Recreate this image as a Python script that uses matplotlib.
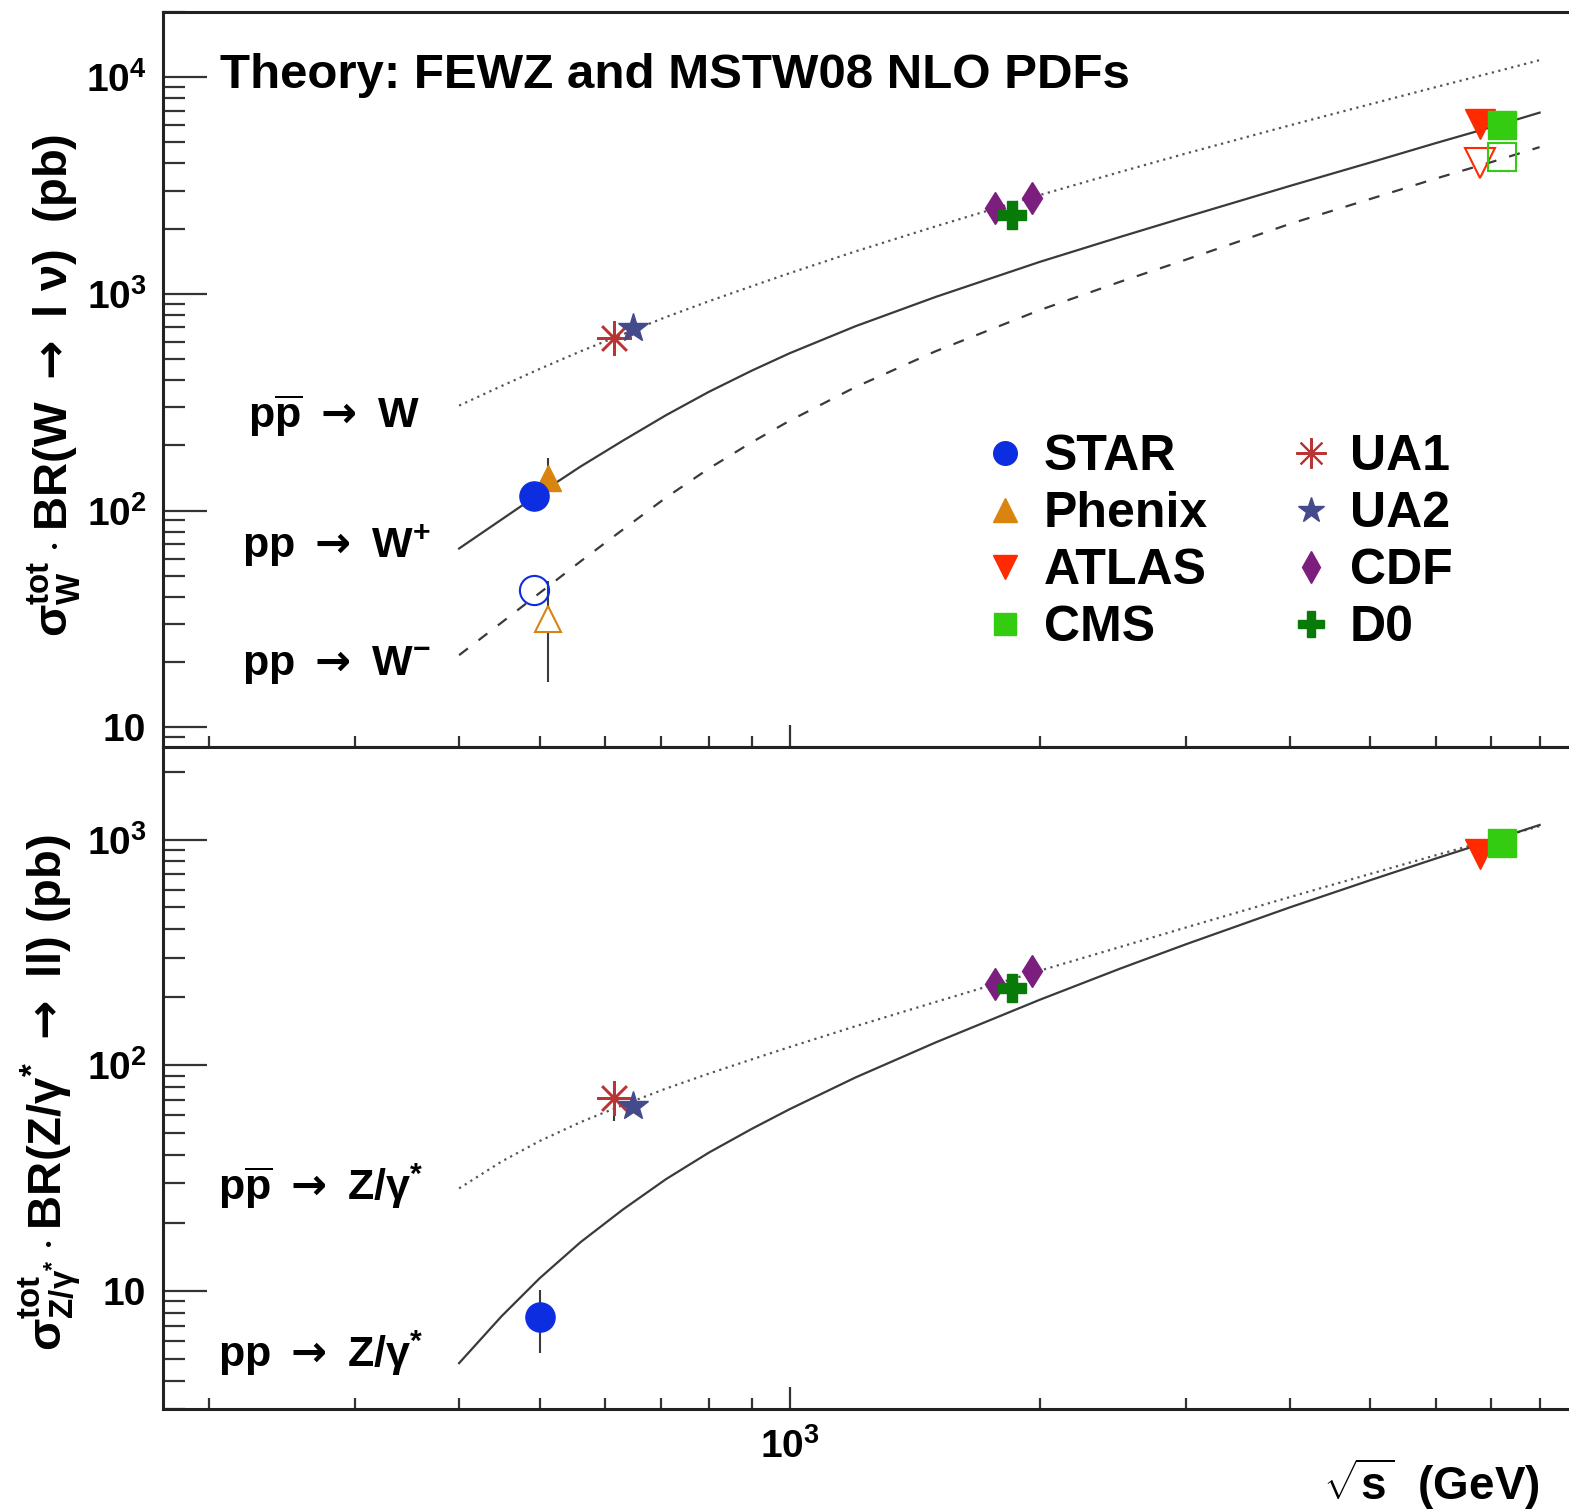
import matplotlib.pyplot as plt
from matplotlib.lines import Line2D
from matplotlib.ticker import LogLocator, FixedLocator, FuncFormatter, NullFormatter

plt.rcParams['font.family'] = ['Liberation Sans', 'DejaVu Sans']
plt.rcParams['font.weight'] = 'bold'
plt.rcParams['mathtext.fontset'] = 'custom'
plt.rcParams['mathtext.rm'] = 'Liberation Sans:bold'
plt.rcParams['mathtext.bf'] = 'Liberation Sans:bold'
plt.rcParams['mathtext.it'] = 'Liberation Sans:bold:italic'
plt.rcParams['mathtext.sf'] = 'Liberation Sans:bold'
plt.rcParams['mathtext.tt'] = 'DejaVu Sans'   # used only for the arrows
plt.rcParams['mathtext.default'] = 'bf'

# theory curves (sqrt(s) in GeV, sigma*BR in pb)
sqrt_s = [400, 450, 500, 560, 630, 710, 800, 900, 1000, 1200, 1500, 2000,
          2500, 3000, 4000, 5000, 6000, 7000, 8000]
th_w_ppbar = [305, 375.6, 450.3, 542.8, 651.3, 781.9, 925.5, 1084, 1246, 1570, 2051, 2856,
              3653, 4445, 5990, 7503, 9003, 10478, 11990]
th_wplus_pp = [66.8, 90.9, 119.8, 159.5, 210.2, 275.5, 353.5, 441.8, 531.9, 708.6, 968.7, 1404,
               1831, 2263, 3146, 4036, 4965, 5884, 6863]
th_wminus_pp = [21.5, 30.4, 41.6, 58.2, 81.7, 114.8, 156.5, 206.3, 259.6, 371.2, 543.9, 841.1,
                1137, 1438, 2101, 2740, 3406, 4058, 4757]
th_z_ppbar = [28.48, 37.45, 46.15, 55.95, 66.66, 78.85, 91.9, 106.1, 120.4, 148.8, 190.8, 262.2,
              334.1, 407.6, 555.5, 703.8, 852.3, 997, 1146.5]
th_z_pp = [4.79, 7.73, 11.38, 16.44, 22.96, 31.30, 41.08, 52.21, 63.87, 88.23, 126.3, 194.9,
           267.9, 343.4, 500.1, 660.0, 823.9, 988.8, 1160]

# measurements (x slightly shifted in the original for visibility)
star_x = [493]
star_wplus = [117]
star_wminus = [42.8]
star_z_x = [501]
star_z = [7.7]
star_z_err = [[2.4], [2.4]]

phenix_x = [512]
phenix_wplus = [142]
phenix_wplus_err = [[32], [32]]
phenix_wminus = [31.5]
phenix_wminus_err = [[15.3], [15.7]]

ua1_x = [615]
ua1_w = [627]
ua1_z = [71.9]
ua1_z_err = [[15], [13]]
ua2_x = [647]
ua2_w = [697]
ua2_z = [66]

cdf_x = [1766, 1957]
cdf_w = [2490, 2769]
cdf_z = [230, 262]
d0_x = [1851]
d0_w = [2312]
d0_z = [221]

atlas_x = [6783]
atlas_wplus = [6070]
atlas_wminus = [4020]
atlas_z = [860]
cms_x = [7200]
cms_wplus = [6040]
cms_wminus = [4280]
cms_z = [967]

c_star = '#0d2de0'
c_phenix = '#d8840f'
c_atlas = '#ff2a00'
c_cms = '#33cc11'
c_ua1 = '#bb3333'
c_ua2 = '#454a8c'
c_cdf = '#7b1e7e'
c_d0 = '#087a08'
c_line = '#3a3a3a'

W, H = 1569, 1512
fig = plt.figure(figsize=(W / 100, H / 100), dpi=100)
left = 163 / W
ax1 = fig.add_axes([left, 1 - 747 / H, 1 - left, (747 - 12) / H])
ax2 = fig.add_axes([left, 1 - 1409 / H, 1 - left, (1409 - 747) / H])

xlim = (176, 8680)


def style_axes(ax, ylim, ylabels, xlabels):
    ax.set_xscale('log')
    ax.set_yscale('log')
    ax.set_xlim(*xlim)
    ax.set_ylim(*ylim)
    for s in ax.spines.values():
        s.set_linewidth(2.2)
        s.set_color('#222222')
    ax.spines['right'].set_visible(False)
    ax.xaxis.set_major_locator(FixedLocator([1000]))
    ax.xaxis.set_minor_locator(LogLocator(base=10, subs=range(2, 10)))
    ax.yaxis.set_major_locator(LogLocator(base=10, numticks=10))
    ax.yaxis.set_minor_locator(LogLocator(base=10, subs=range(2, 10), numticks=20))
    ax.yaxis.set_major_formatter(FuncFormatter(lambda v, p: ylabels.get(int(round(v)), '')))
    ax.yaxis.set_minor_formatter(NullFormatter())
    if xlabels:
        ax.xaxis.set_major_formatter(FuncFormatter(lambda v, p: r'$10^{3}$'))
    else:
        ax.xaxis.set_major_formatter(NullFormatter())
    ax.xaxis.set_minor_formatter(NullFormatter())
    ax.tick_params(axis='y', which='major', direction='in', length=32, width=1.6,
                   color='#333333', labelsize=28, pad=12)
    ax.tick_params(axis='y', which='minor', direction='in', length=16, width=1.6,
                   color='#333333')
    ax.tick_params(axis='x', which='major', direction='in', length=16, width=1.6,
                   color='#333333', labelsize=28, pad=14)
    ax.tick_params(axis='x', which='minor', direction='in', length=8, width=1.6,
                   color='#333333')


style_axes(ax1, (8.1, 2.0e4), {10: '10', 100: r'$10^{2}$', 1000: r'$10^{3}$', 10000: r'$10^{4}$'}, False)
style_axes(ax2, (3.0, 2570), {10: '10', 100: r'$10^{2}$', 1000: r'$10^{3}$'}, True)

# top panel: W
ax1.plot(sqrt_s, th_w_ppbar, color='#555555', lw=1.6, ls=(0, (1, 2)))
ax1.plot(sqrt_s, th_wplus_pp, color=c_line, lw=1.6)
ax1.plot(sqrt_s, th_wminus_pp, color=c_line, lw=1.6, ls=(0, (5, 6)))

ax1.plot(star_x, star_wplus, 'o', ms=21, color=c_star, zorder=5)
ax1.plot(star_x, star_wminus, 'o', ms=21, mfc='none', mec=c_star, mew=1.5, zorder=5)
ax1.errorbar(phenix_x, phenix_wplus, yerr=phenix_wplus_err, fmt='^', ms=19, color=c_phenix,
             ecolor=c_line, elinewidth=1.5, capsize=0, zorder=4)
ax1.errorbar(phenix_x, phenix_wminus, yerr=phenix_wminus_err, fmt='^', ms=19, mfc='white',
             mec=c_phenix, mew=1.5, ecolor=c_line, elinewidth=1.5, capsize=0, zorder=4)
ax1.plot(ua1_x, ua1_w, marker=(8, 2, 0), ms=25, mew=1.8, color=c_ua1, ls='none', zorder=5)
ax1.plot(ua2_x, ua2_w, '*', ms=22, color=c_ua2, zorder=5)
ax1.plot(cdf_x, cdf_w, 'd', ms=16.5, color=c_cdf, zorder=5)
ax1.plot(d0_x, d0_w, 'P', ms=20, color=c_d0, zorder=6)
ax1.plot(atlas_x, atlas_wplus, 'v', ms=21, color=c_atlas, zorder=5)
ax1.plot(atlas_x, atlas_wminus, 'v', ms=21, mfc='none', mec=c_atlas, mew=1.5, zorder=5)
ax1.plot(cms_x, cms_wplus, 's', ms=19.5, color=c_cms, zorder=5)
ax1.plot(cms_x, cms_wminus, 's', ms=19.5, mfc='none', mec=c_cms, mew=1.5, zorder=5)

# bottom panel: Z
ax2.plot(sqrt_s, th_z_ppbar, color='#555555', lw=1.6, ls=(0, (1, 2)))
ax2.plot(sqrt_s, th_z_pp, color=c_line, lw=1.6)
ax2.errorbar(star_z_x, star_z, yerr=star_z_err, fmt='o', ms=21, color=c_star,
             ecolor=c_line, elinewidth=1.5, capsize=0, zorder=5)
ax2.errorbar(ua1_x, ua1_z, yerr=ua1_z_err, fmt='none', ecolor=c_line, elinewidth=1.5,
             capsize=0, zorder=4)
ax2.plot(ua1_x, ua1_z, marker=(8, 2, 0), ms=25, mew=1.8, color=c_ua1, ls='none', zorder=5)
ax2.plot(ua2_x, ua2_z, '*', ms=22, color=c_ua2, zorder=5)
ax2.plot(cdf_x, cdf_z, 'd', ms=16.5, color=c_cdf, zorder=5)
ax2.plot(d0_x, d0_z, 'P', ms=20, color=c_d0, zorder=6)
ax2.plot(atlas_x, atlas_z, 'v', ms=21, color=c_atlas, zorder=5)
ax2.plot(cms_x, cms_z, 's', ms=19.5, color=c_cms, zorder=5)

# legend
handles = [
    Line2D([], [], ls='none', marker='o', ms=17, color=c_star, label='STAR'),
    Line2D([], [], ls='none', marker='^', ms=17, color=c_phenix, label='Phenix'),
    Line2D([], [], ls='none', marker='v', ms=17, color=c_atlas, label='ATLAS'),
    Line2D([], [], ls='none', marker='s', ms=16.5, color=c_cms, label='CMS'),
    Line2D([], [], ls='none', marker=(8, 2, 0), ms=22, mew=1.5, color=c_ua1, label='UA1'),
    Line2D([], [], ls='none', marker='*', ms=19, color=c_ua2, label='UA2'),
    Line2D([], [], ls='none', marker='d', ms=16, color=c_cdf, label='CDF'),
    Line2D([], [], ls='none', marker='P', ms=19, color=c_d0, label='D0'),
]
fig.legend(handles=handles, ncol=2, loc='upper left', bbox_to_anchor=(986 / W, 1 - 434 / H),
           frameon=False, fontsize=36, handlelength=0.75, handletextpad=0.4,
           columnspacing=1.69, labelspacing=0.22, borderpad=0, borderaxespad=0)

# texts
arrow = r'\ \mathtt{\rightarrow}\ '
fig.text(220 / W, 1 - 88 / H, 'Theory: FEWZ and MSTW08 NLO PDFs', fontsize=35.5,
         ha='left', va='baseline')
fig.text(248 / W, 1 - 428 / H, r'$p\overline{p}' + arrow + r'W$', fontsize=31,
         ha='left', va='baseline')
fig.text(242 / W, 1 - 558 / H, r'$pp' + arrow + r'W^{+}$', fontsize=31,
         ha='left', va='baseline')
fig.text(242 / W, 1 - 675 / H, r'$pp' + arrow + r'W^{-}$', fontsize=31,
         ha='left', va='baseline')
fig.text(218 / W, 1 - 1200 / H, r'$p\overline{p}' + arrow + r'Z/\gamma^{*}$', fontsize=31,
         ha='left', va='baseline')
fig.text(218 / W, 1 - 1367 / H, r'$pp' + arrow + r'Z/\gamma^{*}$', fontsize=31,
         ha='left', va='baseline')

fig.text(55 / W, 1 - 385 / H,
         r'$\sigma^{tot}_{W} \cdot BR(W' + arrow + r'l\ \nu)$  (pb)',
         fontsize=34, rotation=90, ha='center', va='center')
fig.text(50 / W, 1 - 1092 / H,
         r'$\sigma^{tot}_{Z/\gamma^{*}} \cdot BR(Z/\gamma^{*}' + arrow + r'll)$ (pb)',
         fontsize=34, rotation=90, ha='center', va='center')
fig.text(1540 / W, 1 - 1500 / H, r'$\sqrt{s}$  (GeV)', fontsize=33, ha='right', va='baseline')

fig.savefig('out.png', dpi=100)
